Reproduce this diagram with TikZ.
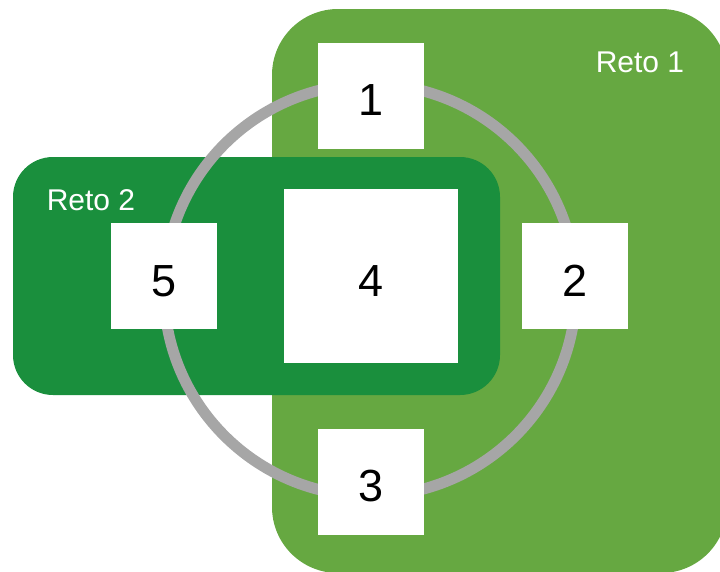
\documentclass[tikz,border=0pt]{standalone}
\usepackage{fontspec}
\setmainfont{Liberation Sans}
\definecolor{retoA}{HTML}{66A841}
\definecolor{retoB}{HTML}{1A8F3D}
\definecolor{ringc}{HTML}{A6A6A6}
\begin{document}
\begin{tikzpicture}[x=1pt,y=-1pt,
  box/.style={fill=white,draw=none,minimum width=106pt,minimum height=106pt,inner sep=0pt,font=\fontsize{45}{45}\selectfont,text height=40pt,text depth=0pt},
  retolabel/.style={text=white,font=\fontsize{30}{30}\selectfont,inner sep=0pt}]
\useasboundingbox (0,0) rectangle (720,571);
\clip (0,0) rectangle (720,571);
\fill[retoA,rounded corners=66pt] (272,9) rectangle (727,573);
\fill[retoB,rounded corners=40pt] (13,157) rectangle (500,395);
\node[retolabel] (r1) at (640,62) {Reto 1};
\node[retolabel] (r2) at (91,200) {Reto 2};
\draw[ringc,line width=11pt] (370,290) circle[radius=206pt];
\node[box] (b1) at (371,95.5) {1};
\node[box] (b2) at (575,276) {2};
\node[box] (b3) at (371,481.5) {3};
\node[box] (b5) at (164,276) {5};
\node[box,minimum width=174pt,minimum height=174pt] (b4) at (371,276) {4};
\end{tikzpicture}
\end{document}
